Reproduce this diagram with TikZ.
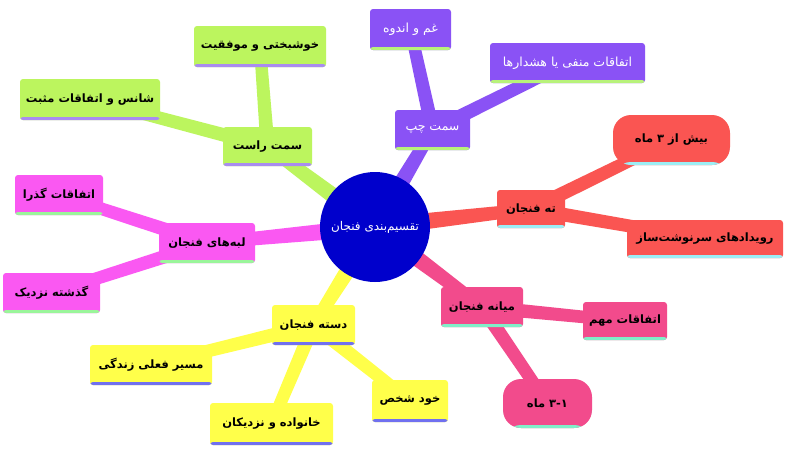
\documentclass[tikz,border=0pt]{standalone}
\usepackage{fontspec}
\usetikzlibrary{calc}
\TeXXeTstate=1
\newfontfamily\fa[Script=Arabic]{DejaVu Sans}
\definecolor{cgreen}{HTML}{BCF55E}
\definecolor{cpurple}{HTML}{8A52F5}
\definecolor{cred}{HTML}{FA5552}
\definecolor{cpink}{HTML}{F24B8C}
\definecolor{cmag}{HTML}{FA58F2}
\definecolor{cyellow}{HTML}{FFFF4A}
\definecolor{cblue}{HTML}{0000CC}
\definecolor{sgreen}{HTML}{A98CF0}
\definecolor{spurple}{HTML}{B8F27A}
\definecolor{sred}{HTML}{9CEEF5}
\definecolor{spink}{HTML}{80EFC8}
\definecolor{smag}{HTML}{9AF59A}
\definecolor{syellow}{HTML}{7070F0}
\pgfdeclarelayer{bg}\pgfsetlayers{bg,main}
\tikzset{
 mbox/.style 2 args={draw=none, fill=#1, rounded corners=3pt, inner sep=0pt,
   font=\fa\bfseries\fontsize{11.5}{13}\selectfont, text=black,
   path picture={\fill[#2] ([yshift=-1pt]path picture bounding box.south west) rectangle ([yshift=3pt]path picture bounding box.south east);}},
 gbox/.style={mbox={cgreen}{sgreen}},
 pbox/.style={mbox={cpurple}{spurple}, text=white, font=\fa\fontsize{12.5}{15}\selectfont},
 rbox/.style={mbox={cred}{sred}},
 kbox/.style={mbox={cpink}{spink}},
 mgbox/.style={mbox={cmag}{smag}},
 ybox/.style={mbox={cyellow}{syellow}},
 pill/.style={rounded corners=18pt},
 hub/.style={circle, fill=cblue, draw=none, minimum size=110pt, inner sep=0pt, text=white, font=\fa\fontsize{12}{14}\selectfont}
}
\newcommand\conn[5]{\fill[#1] ($(#2)!#4!90:(#3)$) -- ($(#3)!#5!-90:(#2)$) -- ($(#3)!#5!90:(#2)$) -- ($(#2)!#4!-90:(#3)$) -- cycle;}
\begin{document}
\begin{tikzpicture}[x=1pt,y=-1pt]
\useasboundingbox (0,0) rectangle (800,450);
\node[hub] (c) at (375,227) {\beginR تقسیم^^^^200cبندی فنجان\endR};
% green
\node[gbox, minimum width=89pt, minimum height=39pt] (gR) at (267.5,146.5) {\beginR سمت راست\endR};
\node[gbox, minimum width=132pt, minimum height=41pt] (gA) at (260,46.5) {\beginR خوشبختی و موفقیت\endR};
\node[gbox, minimum width=140pt, minimum height=41pt] (gB) at (90,99.5) {\beginR شانس و اتفاقات مثبت\endR};
% purple
\node[pbox, minimum width=75pt, minimum height=40pt] (pL) at (432.5,130) {\beginR سمت چپ\endR};
\node[pbox, minimum width=81pt, minimum height=41pt] (pA) at (410.5,29.5) {\beginR غم و اندوه\endR};
\node[pbox, minimum width=155pt, minimum height=40pt] (pB) at (567.5,63) {\beginR اتفاقات منفی یا هشدارها\endR};
% red
\node[rbox, minimum width=68pt, minimum height=38pt] (rT) at (531,209) {\beginR ته فنجان\endR};
\node[rbox, pill, minimum width=117pt, minimum height=50pt] (rA) at (671.5,140) {\beginR بیش از ۳ ماه\endR};
\node[rbox, minimum width=156pt, minimum height=38pt] (rB) at (705,239) {\beginR رویدادهای سرنوشت^^^^200cساز\endR};
% pink
\node[kbox, minimum width=82pt, minimum height=40pt] (kM) at (482,307) {\beginR میانه فنجان\endR};
\node[kbox, minimum width=84pt, minimum height=38pt] (kA) at (625,321) {\beginR اتفاقات مهم\endR};
\node[kbox, pill, minimum width=89pt, minimum height=49pt] (kB) at (547.5,403.5) {ماه\ ۳\kern0pt-\kern0pt۱};
% magenta
\node[mgbox, minimum width=96pt, minimum height=40pt] (mL) at (207,243) {\beginR لبه^^^^200cهای فنجان\endR};
\node[mgbox, minimum width=88pt, minimum height=40pt] (mA) at (59,195) {\beginR اتفاقات گذرا\endR};
\node[mgbox, minimum width=97pt, minimum height=40pt] (mB) at (51.5,293) {\beginR گذشته نزدیک\endR};
% yellow
\node[ybox, minimum width=83pt, minimum height=40pt] (yD) at (313.5,325) {\beginR دسته فنجان\endR};
\node[ybox, minimum width=122pt, minimum height=40pt] (yA) at (151,365) {\beginR مسیر فعلی زندگی\endR};
\node[ybox, minimum width=123pt, minimum height=42pt] (yB) at (271.5,424) {\beginR خانواده و نزدیکان\endR};
\node[ybox, minimum width=76pt, minimum height=42pt] (yC) at (410,401) {\beginR خود شخص\endR};
\begin{pgfonlayer}{bg}
\fill[white] (0,0) rectangle (800,450);
\conn{cgreen}{c}{gR}{9pt}{6pt}
\conn{cgreen}{gR}{gA}{7pt}{6pt}
\conn{cgreen}{gR}{gB}{7pt}{6pt}
\conn{cpurple}{c}{pL}{9pt}{6pt}
\conn{cpurple}{pL}{pA}{7pt}{6pt}
\conn{cpurple}{pL}{pB}{7pt}{6pt}
\conn{cred}{c}{rT}{9pt}{6pt}
\conn{cred}{rT}{rA}{7pt}{6pt}
\conn{cred}{rT}{rB}{7pt}{6pt}
\conn{cpink}{c}{kM}{9pt}{6pt}
\conn{cpink}{kM}{kA}{7pt}{6pt}
\conn{cpink}{kM}{kB}{7pt}{6pt}
\conn{cmag}{c}{mL}{9pt}{6pt}
\conn{cmag}{mL}{mA}{7pt}{6pt}
\conn{cmag}{mL}{mB}{7pt}{6pt}
\conn{cyellow}{c}{yD}{9pt}{6pt}
\conn{cyellow}{yD}{yA}{7pt}{6pt}
\conn{cyellow}{yD}{yB}{7pt}{6pt}
\conn{cyellow}{yD}{yC}{7pt}{6pt}
\end{pgfonlayer}
\end{tikzpicture}
\end{document}
